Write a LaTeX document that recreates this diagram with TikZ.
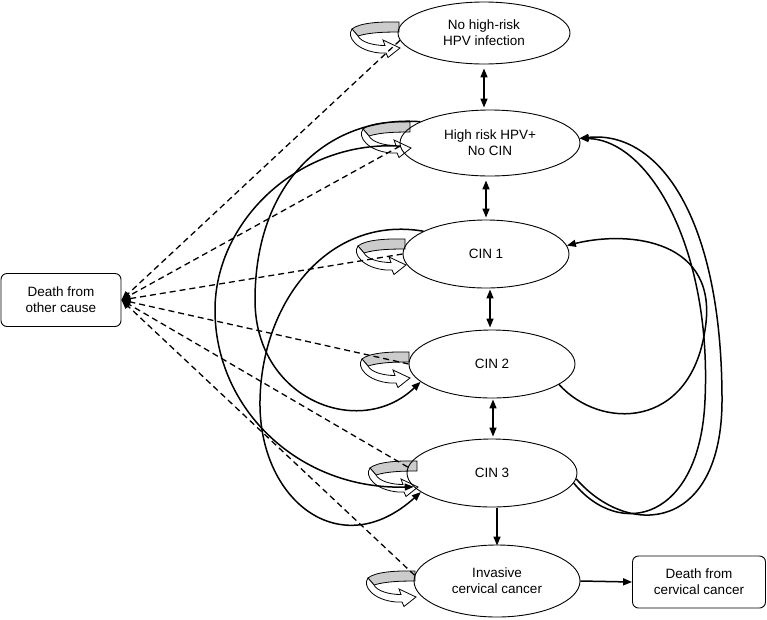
\documentclass[tikz,border=0pt]{standalone}
\usepackage{fontspec}
\setmainfont{Liberation Sans}
\usetikzlibrary{shapes.geometric,arrows.meta}
\begin{document}
\begin{tikzpicture}[x=1pt,y=-1pt,
  txt/.style={font=\fontsize{13.5}{16}\selectfont, align=center},
  st/.style={txt, ellipse, draw, line width=0.9pt, inner sep=0pt},
  bx/.style={txt, rectangle, rounded corners=6pt, draw, line width=0.9pt, inner sep=0pt},
  tip/.style={-{Triangle[length=9pt,width=7pt]}},
  con/.style={line width=1.5pt, tip},
  dbl/.style={line width=1.5pt, {Triangle[length=9pt,width=7pt]}-{Triangle[length=9pt,width=7pt]}},
  dsh/.style={line width=1.3pt, dash pattern=on 6pt off 4pt, tip},
  loopicon/.pic={
    \filldraw[fill=gray!40, line width=0.8pt] (0,0) .. controls (-20,-0.5) and (-40,1) .. (-47,7) -- (-41,14) .. controls (-30,10.5) and (-15,10) .. (0,10) -- cycle;
    \filldraw[fill=white, line width=0.8pt] (-47,7) .. controls (-53,15) and (-42,29) .. (-19,31) -- (-13,31) -- (-11,35.5) -- (1,26) -- (-16,18) -- (-14,23.5) .. controls (-26,23.5) and (-38,20) .. (-41,14) -- cycle;
  }]
\useasboundingbox (0,0) rectangle (767,619);

% self-loop icons
\pic at (399,22) {loopicon};
\pic at (410,122) {loopicon};
\pic at (405,239) {loopicon};
\pic at (409,352) {loopicon};
\pic at (417,461) {loopicon};
\pic at (415,571) {loopicon};

% states
\node[st, minimum width=172pt, minimum height=62pt] (n0) at (484,33) {No high-risk\\HPV infection};
\node[st, minimum width=180pt, minimum height=66pt] (n1) at (490,143) {High risk HPV+\\No CIN};
\node[st, minimum width=166pt, minimum height=68pt] (n2) at (486,254) {CIN 1};
\node[st, minimum width=166pt, minimum height=68pt] (n3) at (492,364) {CIN 2};
\node[st, minimum width=170pt, minimum height=68pt] (n4) at (492,473) {CIN 3};
\node[st, minimum width=166pt, minimum height=72pt] (n5) at (497,581) {Invasive\\cervical cancer};
\node[bx, minimum width=120pt, minimum height=53pt] (dO) at (61,300) {Death from\\other cause};
\node[bx, minimum width=133pt, minimum height=52pt] (dC) at (699,582) {Death from\\cervical cancer};

% vertical transitions
\draw[dbl, shorten <=4pt, shorten >=2pt] (n0.south) -- (n0.south |- n1.north);
\draw[dbl, shorten <=4pt, shorten >=2pt] (n2.north |- n1.south) -- (n2.north);
\draw[dbl, shorten <=1pt, shorten >=2pt] ([xshift=4pt]n2.south) -- ([xshift=-2pt]n3.north);
\draw[dbl, shorten <=1pt, shorten >=2pt] ([xshift=1pt]n3.south) -- ([xshift=1pt]n3.south |- n4.north);
\draw[con, shorten <=1pt, shorten >=-1pt] (n5.north |- n4.south) -- (n5.north);
\draw[con] (n5.east) -- (dC.west);

% left curves
\draw[con] (n1.163) .. controls (330,115) and (255,180) .. (255,300) .. controls (255,400) and (360,440) .. (n3.194);
\draw[con] (n2.160) .. controls (330,215) and (262,300) .. (260,400) .. controls (258,500) and (340,565) .. (n4.195);
\draw[con] (n1.182) .. controls (300,140) and (215,220) .. (215,310) .. controls (215,410) and (300,490) .. (n4.190);

% right curves
\draw[con] (n3.-17) .. controls (600,430) and (690,430) .. (705,330) .. controls (720,240) and (630,230) .. (n2.6);
\draw[con] (n4.-7) .. controls (620,540) and (700,520) .. (705,400) .. controls (712,250) and (650,140) .. (n1.3);
\draw[con] (n4.-4) .. controls (630,540) and (722,530) .. (722,400) .. controls (722,220) and (660,130) .. (n1.3);

% death from other cause
\draw[dsh] (n0.185) -- (dO.east);
\draw[dsh] (n1.182) -- (dO.east);
\draw[dsh] (n2.180) -- (dO.east);
\draw[dsh] (n3.180) -- (dO.east);
\draw[dsh] (n4.176) -- (dO.east);
\draw[dsh] (n5.176) -- (dO.east);
\end{tikzpicture}
\end{document}
